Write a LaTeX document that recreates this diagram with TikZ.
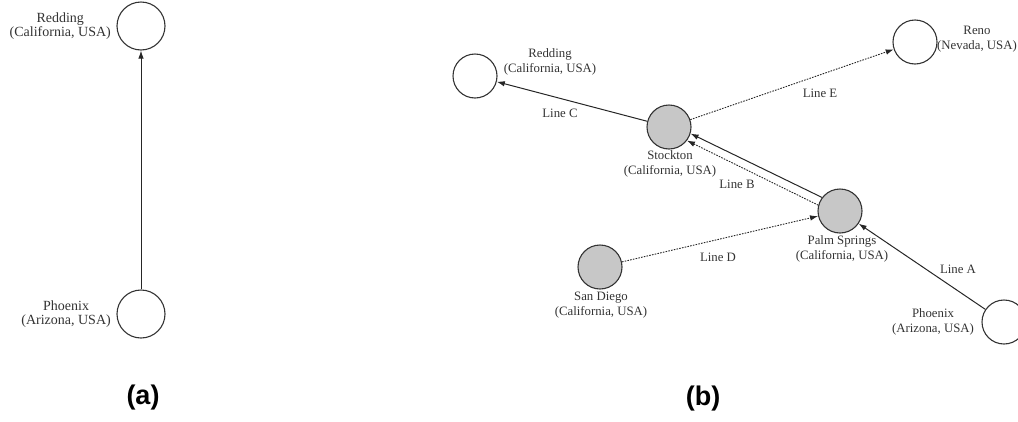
\documentclass[tikz,border=0pt]{standalone}
\usepackage{fontspec}
\setmainfont{Liberation Serif}
\newfontfamily\capfont{Liberation Sans}
\usetikzlibrary{arrows.meta,calc}
\tikzset{
  city/.style={circle,draw=black!80,line width=1.1pt,minimum size=44pt,inner sep=0pt},
  citya/.style={city,minimum size=48pt},
  busy/.style={city,fill=black!22},
  lbl/.style={align=center,text=black!80,font=\fontsize{12.8pt}{15pt}\selectfont,inner sep=0pt},
  lbla/.style={align=center,text=black!80,font=\fontsize{14pt}{14pt}\selectfont,inner sep=0pt},
  solidline/.style={draw=black!85,line width=1pt,-{Latex[length=8pt,width=5.5pt]}},
  dotline/.style={draw=black!85,line width=0.9pt,dash pattern=on 1.6pt off 1.2pt,-{Latex[length=8pt,width=5.5pt]}},
  captext/.style={font=\capfont\bfseries\fontsize{27pt}{30pt}\selectfont,inner sep=0pt}
}
\begin{document}
\begin{tikzpicture}[x=1pt,y=-1pt]
\useasboundingbox (0,0) rectangle (1018,421);
% (a)
\node[citya] (ra) at (141,26) {};
\node[citya] (pa) at (141,314) {};
\node[lbla,anchor=east] (ral) at (111,26) {Redding\\(California, USA)};
\node[lbla,anchor=east] (pal) at (111,314) {Phoenix\\(Arizona, USA)};
\draw[solidline] (pa) -- (ra);
\node[captext] (capa) at (143,398) {(a)};
% (b)
\node[city] (rd) at (475,76) {};
\node[busy] (st) at (669,127) {};
\node[busy] (ps) at (840,211) {};
\node[busy] (sd) at (600,267) {};
\node[city] (rn) at (915,42) {};
\node[city] (ph) at (1004,322) {};
\node[lbl] (rdl) at (550,62) {Redding\\(California, USA)};
\node[lbl] (stl) at (670,164) {Stockton\\(California, USA)};
\node[lbl] (psl) at (842,249) {Palm Springs\\(California, USA)};
\node[lbl] (sdl) at (601,305) {San Diego\\(California, USA)};
\node[lbl] (rnl) at (977,39) {Reno\\(Nevada, USA)};
\node[lbl] (phl) at (933,322) {Phoenix\\(Arizona, USA)};
\draw[solidline] (st) -- (rd);
\draw[solidline] (ps.143) -- (st.343);
\draw[dotline] (ps.165) -- (st.323);
\draw[dotline] (sd) -- (ps);
\draw[dotline] (st) -- (rn);
\draw[solidline] (ph) -- (ps);
\node[lbl] (lc) at (560,113) {Line C};
\node[lbl] (lb) at (737,184) {Line B};
\node[lbl] (ld) at (718,257) {Line D};
\node[lbl] (le) at (820,93) {Line E};
\node[lbl] (la) at (958,269) {Line A};
\node[captext] (capb) at (703,399) {(b)};
\end{tikzpicture}
\end{document}
